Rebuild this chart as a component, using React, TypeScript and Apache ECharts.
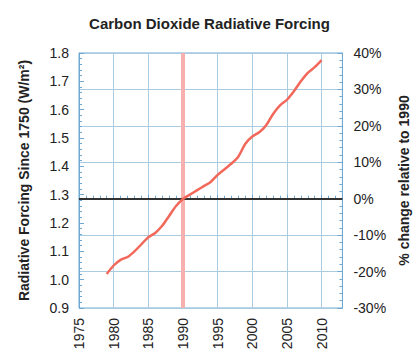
import React, { useEffect, useRef } from "react";
import * as echarts from "echarts";

const years = [1979, 1980, 1981, 1982, 1983, 1984, 1985, 1986, 1987, 1988, 1989, 1990, 1991, 1992, 1993, 1994, 1995, 1996, 1997, 1998, 1999, 2000, 2001, 2002, 2003, 2004, 2005, 2006, 2007, 2008, 2009, 2010];
const forcing = [1.02, 1.05, 1.07, 1.08, 1.1, 1.125, 1.15, 1.165, 1.19, 1.225, 1.26, 1.285, 1.3, 1.315, 1.33, 1.345, 1.37, 1.39, 1.41, 1.435, 1.48, 1.505, 1.52, 1.545, 1.585, 1.615, 1.635, 1.665, 1.7, 1.73, 1.75, 1.775];
const referenceYear = [1990];
const zeroPercent = [0];
const leftTicks = { min: 0.9, max: 1.8, step: 0.1 };
const rightTicks = { min: -30, max: 40, step: 10 };
const xTicks = { min: 1975, max: 2013, step: 5 };

const FONT = "Liberation Sans, Arial, sans-serif";
const FRAME = "#6fa9d2";
const GRID = "#a9cce2";

export default function App() {
  const ref = useRef<HTMLDivElement>(null);
  useEffect(() => {
    if (!ref.current) return;
    const chart = echarts.init(ref.current, undefined, { renderer: "svg" });
    chart.setOption({
      animation: false,
      backgroundColor: "#ffffff",
      title: {
        text: "Carbon Dioxide Radiative Forcing",
        left: "center",
        top: 11,
        textStyle: { fontFamily: FONT, fontSize: 15, fontWeight: "bold", color: "#222" },
      },
      grid: {
        left: 79,
        right: 72,
        top: 53,
        bottom: 48,
        show: true,
        borderColor: FRAME,
        borderWidth: 1,
      },
      xAxis: {
        type: "value",
        min: xTicks.min,
        max: xTicks.max,
        interval: xTicks.step,
        axisLine: { show: true, lineStyle: { color: FRAME } },
        axisTick: { show: true, inside: true, length: 4, lineStyle: { color: FRAME } },
        minorTick: { show: true, splitNumber: 5, length: 3, lineStyle: { color: FRAME } },
        splitLine: { show: true, lineStyle: { color: GRID, width: 1 } },
        axisLabel: {
          rotate: 90,
          showMaxLabel: false,
          margin: 10,
          fontFamily: FONT,
          fontSize: 14,
          color: "#222",
          formatter: (v: number) => (v % 5 === 0 ? String(v) : ""),
        },
      },
      yAxis: [
        {
          type: "value",
          position: "left",
          min: leftTicks.min,
          max: leftTicks.max,
          interval: leftTicks.step,
          name: "Radiative Forcing Since 1750 (W/m\u00b2)",
          nameLocation: "middle",
          nameGap: 48,
          nameTextStyle: { fontFamily: FONT, fontSize: 14, fontWeight: "bold", color: "#222" },
          axisLine: { show: true, lineStyle: { color: FRAME } },
          axisTick: { show: true, inside: true, length: 5, lineStyle: { color: FRAME } },
          minorTick: { show: true, splitNumber: 5, length: 3, lineStyle: { color: FRAME } },
          splitLine: { show: false },
          axisLabel: {
            margin: 10,
            fontFamily: FONT,
            fontSize: 14,
            color: "#222",
            formatter: (v: number) => v.toFixed(1),
          },
        },
        {
          type: "value",
          position: "right",
          min: rightTicks.min,
          max: rightTicks.max,
          interval: rightTicks.step,
          name: "% change relative to 1990",
          nameLocation: "middle",
          nameGap: 50,
          nameTextStyle: { fontFamily: FONT, fontSize: 14, fontWeight: "bold", color: "#222" },
          axisLine: { show: true, lineStyle: { color: FRAME } },
          axisTick: { show: true, inside: true, length: 5, lineStyle: { color: FRAME } },
          minorTick: { show: true, splitNumber: 5, length: 3, lineStyle: { color: FRAME } },
          splitLine: { show: true, lineStyle: { color: GRID, width: 1 } },
          axisLabel: {
            margin: 11,
            fontFamily: FONT,
            fontSize: 14,
            color: "#222",
            formatter: (v: number) => `${v}%`,
          },
        },
      ],
      series: [
        {
          type: "line",
          name: "1990 marker",
          yAxisIndex: 1,
          data: [],
          silent: true,
          markLine: {
            symbol: "none",
            silent: true,
            label: { show: false },
            lineStyle: { color: "#f6b1ae", width: 4, type: "solid" },
            data: referenceYear.map((y) => ({ xAxis: y })),
          },
        },
        {
          type: "line",
          name: "zero",
          yAxisIndex: 1,
          data: [],
          silent: true,
          markLine: {
            symbol: "none",
            silent: true,
            label: { show: false },
            lineStyle: { color: "#333333", width: 2, type: "solid" },
            data: zeroPercent.map((v) => ({ yAxis: v })),
          },
        },
        {
          type: "line",
          name: "CO2 forcing",
          yAxisIndex: 0,
          data: years.map((y, i) => [y, forcing[i]]),
          smooth: 0.3,
          showSymbol: false,
          lineStyle: { color: "#f2685a", width: 2.5 },
          itemStyle: { color: "#f2685a" },
          z: 5,
        },
      ],
    });
    return () => chart.dispose();
  }, []);
  return (
    <div
      ref={ref}
      style={{ position: "absolute", left: 0, top: 0, width: 419, height: 356 }}
    />
  );
}
